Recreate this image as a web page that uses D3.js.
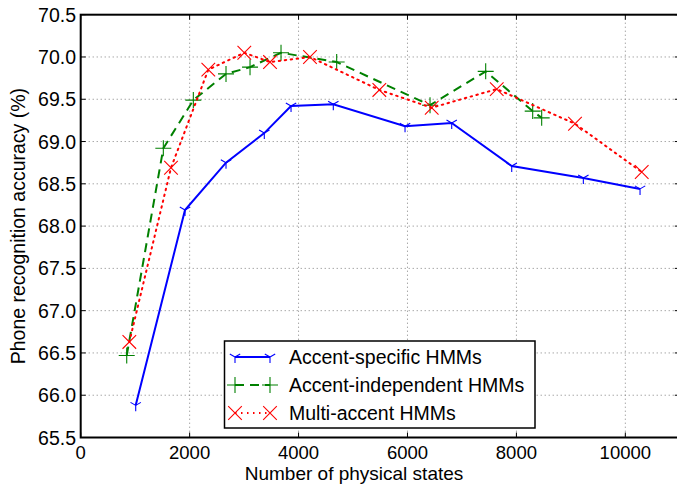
<!DOCTYPE html>
<html><head><meta charset="utf-8">
<script src="https://cdn.jsdelivr.net/npm/d3@7"></script>
<style>
html,body{margin:0;padding:0;background:#fff;}
svg{display:block;font-family:"Liberation Sans",Arial,sans-serif;}
</style></head>
<body><svg id="c" width="677" height="487"></svg>
<script>
const xTicks = [0, 2000, 4000, 6000, 8000, 10000];
const yTicks = [65.5, 66.0, 66.5, 67.0, 67.5, 68.0, 68.5, 69.0, 69.5, 70.0, 70.5];

const specificX = [1010, 1915, 2668, 3371, 3862, 4638, 5955, 6812, 7914, 9229, 10270];
const specificY = [65.88, 68.19, 68.75, 69.10, 69.42, 69.44, 69.18, 69.22, 68.71, 68.57, 68.44];

const independentX = [845, 1517, 2068, 2668, 3109, 3678, 4700, 6414, 7436, 8299, 8464];
const independentY = [66.47, 68.92, 69.49, 69.80, 69.88, 70.05, 69.94, 69.43, 69.83, 69.36, 69.28];

const multiX = [893, 1658, 2343, 3004, 3476, 4210, 5483, 6445, 7639, 9076, 10301];
const multiY = [66.63, 68.69, 69.85, 70.05, 69.94, 70.00, 69.61, 69.40, 69.62, 69.21, 68.64];

const seriesNames = ["Accent-specific HMMs", "Accent-independent HMMs", "Multi-accent HMMs"];

const svg = d3.select("#c");
const L = 80.7, R = 679.8, T = 14.7, B = 437.5;
const x = d3.scaleLinear().domain([0, 11000]).range([L, R]);
const y = d3.scaleLinear().domain([65.5, 70.5]).range([B, T]);
const FS = 19.5;

// grid
const g = svg.append("g");
g.selectAll("line.gx").data(xTicks.slice(1)).join("line")
  .attr("x1", d => x(d)).attr("x2", d => x(d)).attr("y1", T).attr("y2", B)
  .attr("stroke", "#808080").attr("stroke-width", 1).attr("stroke-dasharray", "1,3");
g.selectAll("line.gy").data(yTicks.slice(1, -1)).join("line")
  .attr("y1", d => y(d)).attr("y2", d => y(d)).attr("x1", L).attr("x2", R)
  .attr("stroke", "#808080").attr("stroke-width", 1).attr("stroke-dasharray", "1,3");

// series
const series = [
  {xs: specificX, ys: specificY, color: "#0000ff", dash: null, marker: "tri"},
  {xs: independentX, ys: independentY, color: "#008000", dash: "9,6", marker: "plus"},
  {xs: multiX, ys: multiY, color: "#ff0000", dash: "1.5,4.5", marker: "x"}
];
function markerPath(type, s) {
  if (type === "tri") {
    const a = s * Math.cos(Math.PI / 6), b = s * 0.5;
    return `M0,0L0,${s}M0,0L${-a},${-b}M0,0L${a},${-b}`;
  }
  if (type === "plus") return `M${-s},0L${s},0M0,${-s}L0,${s}`;
  const c = s * 0.85;
  return `M${-c},${-c}L${c},${c}M${-c},${c}L${c},${-c}`;
}
const line = d3.line().x(d => x(d[0])).y(d => y(d[1]));
series.forEach(se => {
  const pts = se.xs.map((v, i) => [v, se.ys[i]]);
  svg.append("path").datum(pts).attr("d", line).attr("fill", "none")
    .attr("stroke", se.color).attr("stroke-width", 2)
    .attr("stroke-linecap", se.dash && se.marker === "x" ? "round" : "butt")
    .attr("stroke-dasharray", se.dash);
  svg.append("g").selectAll("path").data(pts).join("path")
    .attr("transform", d => `translate(${x(d[0])},${y(d[1])})`)
    .attr("d", markerPath(se.marker, se.marker === "tri" ? 6 : 8))
    .attr("fill", "none").attr("stroke", se.color).attr("stroke-width", 1.1);
});

// axes
const ax = svg.append("g").attr("fill", "none").attr("stroke", "#000");
ax.append("rect").attr("x", L).attr("y", T).attr("width", R - L).attr("height", B - T)
  .attr("stroke-width", 2);
const tl = 5;
xTicks.forEach(t => {
  ax.append("line").attr("x1", x(t)).attr("x2", x(t)).attr("y1", B).attr("y2", B - tl).attr("stroke-width", 1);
  ax.append("line").attr("x1", x(t)).attr("x2", x(t)).attr("y1", T).attr("y2", T + tl).attr("stroke-width", 1);
});
yTicks.forEach(t => {
  ax.append("line").attr("y1", y(t)).attr("y2", y(t)).attr("x1", L).attr("x2", L + tl).attr("stroke-width", 1);
  ax.append("line").attr("y1", y(t)).attr("y2", y(t)).attr("x1", R).attr("x2", R - tl).attr("stroke-width", 1);
});

svg.append("g").selectAll("text").data(xTicks).join("text")
  .attr("x", d => x(d)).attr("y", 458.5).attr("text-anchor", "middle")
  .attr("font-size", 18.5).text(d => d);
svg.append("g").selectAll("text").data(yTicks).join("text")
  .attr("x", 76).attr("y", d => y(d) + 7).attr("text-anchor", "end")
  .attr("font-size", FS).text(d => d.toFixed(1));

svg.append("text").attr("x", x(5000) + 1).attr("y", 480).attr("text-anchor", "middle")
  .attr("font-size", 19).text("Number of physical states");
svg.append("text").attr("transform", `translate(25,${(T + B) / 2}) rotate(-90)`)
  .attr("text-anchor", "middle").attr("font-size", FS).text("Phone recognition accuracy (%)");

// legend
const lg = svg.append("g");
lg.append("rect").attr("x", 224.5).attr("y", 341).attr("width", 310.5).attr("height", 87)
  .attr("fill", "#fff").attr("stroke", "#000").attr("stroke-width", 1.5);
series.forEach((se, i) => {
  const yy = 357 + i * 28;
  lg.append("line").attr("x1", 235).attr("x2", 270).attr("y1", yy).attr("y2", yy)
    .attr("stroke", se.color).attr("stroke-width", 2).attr("stroke-dasharray", se.dash);
  [235, 270].forEach(xx => {
    lg.append("path").attr("transform", `translate(${xx},${yy})`)
      .attr("d", markerPath(se.marker, se.marker === "tri" ? 6 : 8))
      .attr("fill", "none").attr("stroke", se.color).attr("stroke-width", 1.1);
  });
  lg.append("text").attr("x", 289).attr("y", yy + 7).attr("font-size", FS).text(seriesNames[i]);
});
</script></body></html>
